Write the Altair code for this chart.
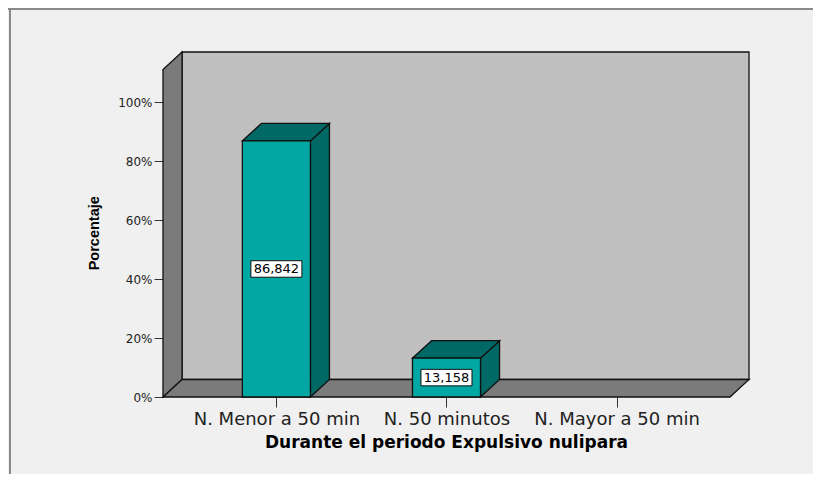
import json
import altair as alt
import pandas as pd

# ---------------- data ----------------
categories = ["N. Menor a 50 min", "N. 50 minutos", "N. Mayor a 50 min"]
percent = [86.842, 13.158, 0.0]
y_ticks = [0, 20, 40, 60, 80, 100]
x_title = "Durante el periodo Expulsivo nulipara"
y_title = "Porcentaje"

# ---------------- layout / 3D geometry ----------------
W, H = 586, 345
PAD_L, PAD_T, PAD_R, PAD_B = 155, 44, 64, 77
X0, XR = -2 / 3, 2 + 2 / 3          # front plane extent (category units)
DX = 0.112                           # depth offset in x (category units)
X1 = XR + DX
YMAX = 117.0
DY = 5.93                            # depth offset in y (percent units)
YTOP = YMAX - DY
HALF = 0.2                           # half bar width
BOXW, BOXH = 0.15, 2.8               # label box half sizes

TEAL = "#00a7a3"
TEAL_DARK = "#006865"
WALL = "#c0c0c0"
SIDE = "#7b7b7b"
EDGE = "#111111"
SW = 1.3

xaxis = alt.Axis(values=list(range(len(categories))),
                 labelExpr=json.dumps(categories) + "[datum.value]",
                 title=None, grid=False, domain=False, tickSize=10,
                 tickColor="#333", labelFont="DejaVu Sans", labelFontSize=18,
                 labelColor="#222", labelPadding=3, labelOverlap=False,
                 labelFlush=False)
yaxis = alt.Axis(values=y_ticks, labelExpr="datum.value + '%'", title=None,
                 grid=False, domain=False, tickSize=9, tickColor="#333",
                 labelFont="DejaVu Sans", labelFontSize=12, labelColor="#222",
                 labelPadding=2)
xscale = alt.Scale(domain=[X0, X1], nice=False, zero=False)
yscale = alt.Scale(domain=[0, YMAX], nice=False, zero=False)


def xenc(f):
    return alt.X(f, type="quantitative", scale=xscale, axis=xaxis)


def yenc(f):
    return alt.Y(f, type="quantitative", scale=yscale, axis=yaxis)


# walls
df_back = pd.DataFrame({"x": [X0 + DX], "x2": [XR + DX], "y": [DY], "y2": [YMAX]})
df_left = pd.DataFrame({"x": [X0, X0 + DX], "y": [0, DY], "y2": [YTOP, YMAX]})
df_floor = pd.DataFrame({"y": [0, DY], "x": [X0, X0 + DX], "x2": [XR, XR + DX]})

# bars
side_rows, top_rows, front_rows, box_rows, text_rows = [], [], [], [], []
for i, v in enumerate(percent):
    if v <= 0:
        continue
    side_rows += [{"bar": i, "x": i + HALF, "y": 0, "y2": v},
                  {"bar": i, "x": i + HALF + DX, "y": DY, "y2": v + DY}]
    top_rows += [{"bar": i, "y": v, "x": i - HALF, "x2": i + HALF},
                 {"bar": i, "y": v + DY, "x": i - HALF + DX, "x2": i + HALF + DX}]
    front_rows.append({"x": i - HALF, "x2": i + HALF, "y": 0, "y2": v})
    box_rows.append({"x": i - BOXW, "x2": i + BOXW, "y": v / 2 - BOXH, "y2": v / 2 + BOXH})
    text_rows.append({"x": i, "y": v / 2, "t": f"{v:.3f}".replace(".", ",")})

back = alt.Chart(df_back).mark_rect(fill=WALL, stroke=EDGE, strokeWidth=SW).encode(
    x=xenc("x"), x2="x2", y=yenc("y"), y2="y2")
left = alt.Chart(df_left).mark_area(orient="vertical", fill=SIDE, stroke=EDGE, strokeWidth=SW).encode(
    x=xenc("x"), y=yenc("y"), y2="y2")
floor = alt.Chart(df_floor).mark_area(orient="horizontal", fill=SIDE, stroke=EDGE, strokeWidth=SW).encode(
    y=yenc("y"), x=xenc("x"), x2="x2")
sides = alt.Chart(pd.DataFrame(side_rows)).mark_area(orient="vertical", fill=TEAL_DARK, stroke=EDGE, strokeWidth=SW).encode(
    x=xenc("x"), y=yenc("y"), y2="y2", detail="bar:N")
tops = alt.Chart(pd.DataFrame(top_rows)).mark_area(orient="horizontal", fill=TEAL_DARK, stroke=EDGE, strokeWidth=SW).encode(
    y=yenc("y"), x=xenc("x"), x2="x2", detail="bar:N")
fronts = alt.Chart(pd.DataFrame(front_rows)).mark_rect(fill=TEAL, stroke=EDGE, strokeWidth=SW).encode(
    x=xenc("x"), x2="x2", y=yenc("y"), y2="y2")
boxes = alt.Chart(pd.DataFrame(box_rows)).mark_rect(fill="white", stroke=EDGE, strokeWidth=1).encode(
    x=xenc("x"), x2="x2", y=yenc("y"), y2="y2")
texts = alt.Chart(pd.DataFrame(text_rows)).mark_text(font="DejaVu Sans", fontSize=13, color="black").encode(
    x=xenc("x"), y=yenc("y"), text="t:N")

ytitle = alt.Chart(pd.DataFrame({"t": [y_title], "y": [YTOP / 2]})).mark_text(
    angle=270, font="Liberation Sans", fontWeight="bold", fontSize=14.5,
    color="black", baseline="middle", align="center").encode(
    x=alt.value(-68), y=yenc("y"), text="t:N")
xtitle = alt.Chart(pd.DataFrame({"t": [x_title], "x": [1.0]})).mark_text(
    font="DejaVu Sans", fontWeight="bold", fontSize=17, color="black",
    baseline="alphabetic", align="center").encode(
    x=xenc("x"), y=alt.value(396), text="t:N")

frame_top = alt.Chart(pd.DataFrame({"a": [0]})).mark_rule(color="#8a8a8a", strokeWidth=2).encode(
    x=alt.value(-PAD_L), x2=alt.value(W + PAD_R), y=alt.value(-PAD_T + 1))
frame_left = alt.Chart(pd.DataFrame({"a": [0]})).mark_rule(color="#8a8a8a", strokeWidth=2).encode(
    x=alt.value(-PAD_L + 2), y=alt.value(-PAD_T), y2=alt.value(H + PAD_B))

chart = alt.layer(
    frame_top, frame_left, back, left, floor, sides, tops, fronts, boxes, texts, ytitle, xtitle
).properties(
    width=W, height=H,
    padding={"left": PAD_L, "top": PAD_T, "right": PAD_R, "bottom": PAD_B},
    autosize=alt.AutoSizeParams(type="none"),
    background="#f0f0f0",
).configure_view(stroke=None)

chart.save("out.html", embed_options={"renderer": "svg", "actions": False})
